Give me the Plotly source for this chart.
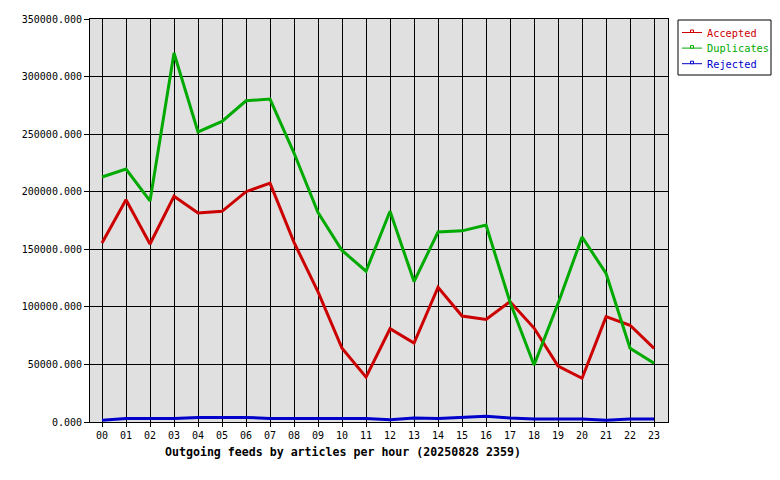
import plotly.graph_objects as go

hours = [f"{h:02d}" for h in range(24)]
accepted = [155500, 193000, 154600, 196000, 181500, 183000, 200000, 207500, 156000, 113000,
            64000, 39000, 81000, 68600, 117000, 92000, 89000, 104500, 81600, 48600,
            38000, 91500, 84000, 64000]
duplicates = [212800, 219700, 192000, 320500, 252000, 261000, 279000, 280500, 233600, 182000,
              149000, 131000, 183000, 122000, 165000, 166000, 171000, 104000, 49500, 103000,
              160700, 129000, 64000, 51000]
rejected = [1500, 3000, 3000, 3000, 4000, 4000, 4000, 3000, 3000, 3000,
            3000, 3000, 2000, 3500, 3000, 4000, 5000, 3500, 2500, 2500,
            2500, 1500, 2500, 2500]
names = ["Accepted", "Duplicates", "Rejected"]
values = [accepted, duplicates, rejected]
colors = ["#cc0000", "#00aa00", "#0000cc"]
yticks = list(range(0, 350001, 50000))
title = "Outgoing feeds by articles per hour (20250828 2359)"

FONT = "DejaVu Sans Mono"
L, R, T, B = 90, 668, 19, 422
PW, PH = R - L, B - T


def px(x):
    return (x - L) / PW


def py(y):
    return (B - y) / PH


fig = go.Figure()
for name, vals, col in zip(names, values, colors):
    fig.add_trace(go.Scatter(
        x=list(range(24)), y=vals, mode="lines", name=name,
        line=dict(color=col, width=3), showlegend=False,
    ))

# manual legend (box, sample line + marker, coloured text)
shapes = [dict(type="rect", xref="paper", yref="paper",
               x0=px(678), x1=px(771), y0=py(20), y1=py(75),
               line=dict(color="black", width=1), fillcolor="white", layer="above")]
annotations = []
for i, (name, col) in enumerate(zip(names, colors)):
    yy = 32.5 + i * 15.6
    shapes.append(dict(type="line", xref="paper", yref="paper",
                       x0=px(682), x1=px(702), y0=py(yy), y1=py(yy),
                       line=dict(color=col, width=1), layer="above"))
    shapes.append(dict(type="rect", xref="paper", yref="paper",
                       x0=px(690.5), x1=px(693.5), y0=py(yy - 2.5), y1=py(yy),
                       line=dict(color=col, width=1), fillcolor="white", layer="above"))
    annotations.append(dict(text=name, xref="paper", yref="paper", x=px(705), y=py(yy),
                            xanchor="left", yanchor="middle", showarrow=False,
                            font=dict(family=FONT, size=10.3, color=col)))
annotations.append(dict(text=f"<b>{title}</b>", xref="paper", yref="paper",
                        x=px(343), y=py(452), xanchor="center", yanchor="middle",
                        showarrow=False, font=dict(family=FONT, size=11.6, color="black")))

fig.update_layout(
    width=780, height=480,
    margin=dict(l=L, r=780 - R, t=T, b=480 - B, autoexpand=False),
    paper_bgcolor="white", plot_bgcolor="#e0e0e0",
    font=dict(family=FONT, size=10, color="black"),
    showlegend=False,
    shapes=shapes, annotations=annotations,
)
fig.update_xaxes(
    range=[-0.5, 23.58], tickmode="array", tickvals=list(range(24)), ticktext=hours,
    showgrid=True, gridcolor="black", gridwidth=1,
    showline=True, linecolor="black", linewidth=1, mirror=True,
    ticks="outside", ticklen=4, tickcolor="black", zeroline=False,
    tickfont=dict(family=FONT, size=10),
)
fig.update_yaxes(
    range=[0, 350000], tickmode="array", tickvals=yticks,
    ticktext=[f"{v}.000" for v in yticks],
    showgrid=True, gridcolor="black", gridwidth=1,
    showline=True, linecolor="black", linewidth=1, mirror=True,
    ticks="outside", ticklen=5, tickcolor="black", zeroline=False,
    tickfont=dict(family=FONT, size=10),
)
fig.write_html("out.html")
